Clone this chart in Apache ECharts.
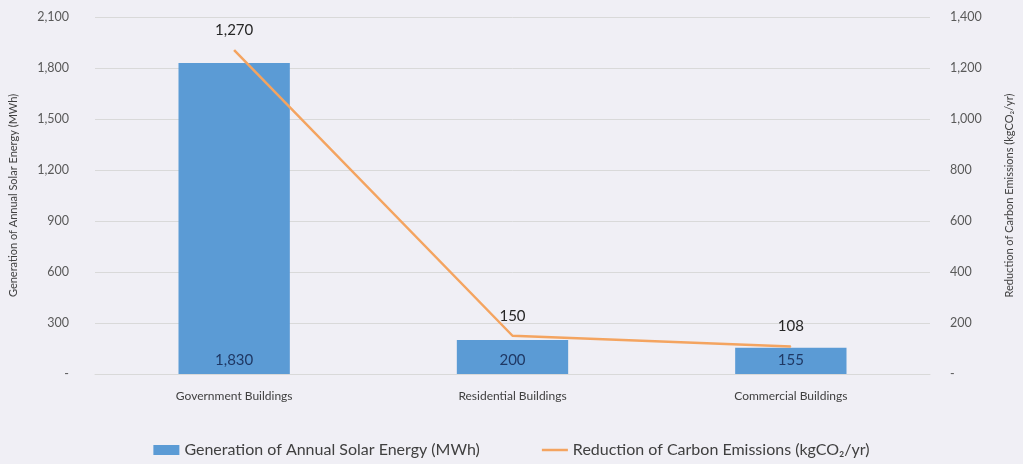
<!DOCTYPE html>
<html>
<head>
<meta charset="utf-8">
<script src="https://cdn.jsdelivr.net/npm/echarts@6/dist/echarts.min.js"></script>
<style>
  html, body { margin: 0; padding: 0; background: #f0eff5; }
  #chart { width: 1023px; height: 464px; }
</style>
</head>
<body>
<div id="chart"></div>
<script>
const categories = ["Government Buildings", "Residential Buildings", "Commercial Buildings"];
const solarEnergy = [1830, 200, 155];
const carbonReduction = [1270, 150, 108];
const solarName = "Generation of Annual Solar Energy (MWh)";
const carbonName = "Reduction of Carbon Emissions (kgCO\u2082/yr)";

const fmt = v => v === 0 ? "-" : v.toLocaleString("en-US");
const font = "Lato, 'Open Sans', sans-serif";

const chart = echarts.init(document.getElementById("chart"));
chart.setOption({
    backgroundColor: "#f0eff5",
    textStyle: { fontFamily: font },
    grid: { left: 92, right: 83, top: 17, bottom: 90 },
    legend: {
        bottom: 1,
        itemGap: 62,
        itemWidth: 26,
        itemHeight: 10,
        textStyle: { fontSize: 16, color: "#404040", fontFamily: font },
        data: [
            { name: solarName, icon: "rect" },
            { name: carbonName, icon: "path://M0,0 L26,0 L26,2.5 L0,2.5 Z" }
        ]
    },
    xAxis: {
        type: "category",
        data: categories,
        axisLine: { show: true, lineStyle: { color: "#d9d9d9" } },
        axisTick: { show: false },
        axisLabel: { color: "#404040", fontSize: 12, margin: 16 }
    },
    yAxis: [
        {
            type: "value",
            min: 0, max: 2100, interval: 300,
            name: "Generation of Annual Solar Energy (MWh)",
            nameLocation: "middle",
            nameGap: 76,
            nameTextStyle: { color: "#404040", fontSize: 11 },
            axisLabel: { formatter: fmt, color: "#595959", fontSize: 12.5, margin: 26 },
            splitLine: { lineStyle: { color: "#d9d9d9" } },
            axisLine: { show: false },
            axisTick: { show: false }
        },
        {
            type: "value",
            min: 0, max: 1400, interval: 200,
            name: "Reduction of Carbon Emissions (kgCO\u2082/yr)",
            nameLocation: "middle",
            nameGap: 74,
            nameRotate: 90,
            nameTextStyle: { color: "#404040", fontSize: 11 },
            axisLabel: { formatter: fmt, color: "#595959", fontSize: 12.5, margin: 20 },
            splitLine: { show: false },
            axisLine: { show: false },
            axisTick: { show: false }
        }
    ],
    series: [
        {
            name: solarName,
            type: "bar",
            data: solarEnergy,
            barWidth: "40%",
            itemStyle: { color: "#5b9bd5" },
            label: {
                show: true,
                position: "insideBottom",
                distance: 6,
                formatter: p => fmt(p.value),
                color: "#1f3864",
                fontSize: 15
            }
        },
        {
            name: carbonName,
            type: "line",
            yAxisIndex: 1,
            data: carbonReduction,
            symbol: "circle",
            symbolSize: 1,
            showSymbol: true,
            lineStyle: { color: "#f4a460", width: 2.5 },
            itemStyle: { color: "#f4a460" },
            label: {
                show: true,
                position: "top",
                distance: 12,
                formatter: p => fmt(p.value),
                color: "#262626",
                fontSize: 15
            }
        }
    ]
});
</script>
</body>
</html>
